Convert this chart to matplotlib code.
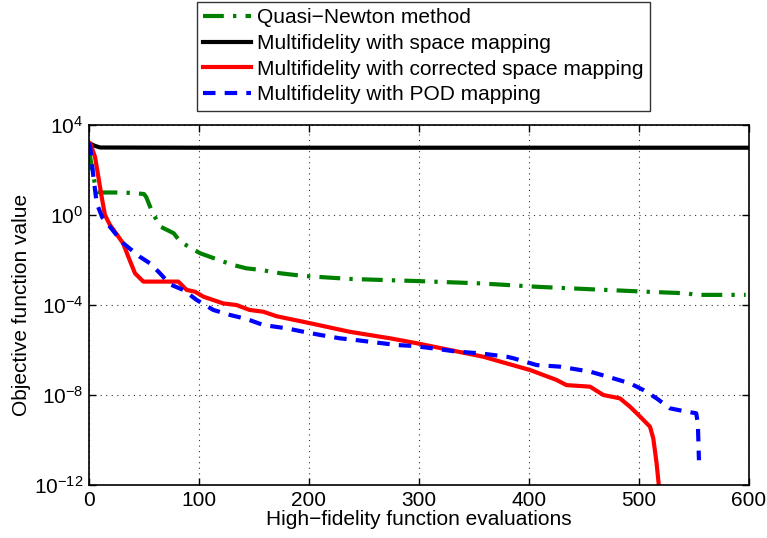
import numpy as np
import matplotlib
matplotlib.use("Agg")
import matplotlib.pyplot as plt

plt.rcParams['font.family'] = ['Liberation Sans', 'DejaVu Sans']
plt.rcParams['mathtext.fontset'] = 'custom'
plt.rcParams['mathtext.rm'] = 'Liberation Sans'
plt.rcParams['mathtext.it'] = 'Liberation Sans:italic'

# Quasi-Newton (x, log10 y)
qn_x = [0, 4, 7, 10, 25, 40, 50, 52, 58, 65, 77, 83, 101, 122, 131, 143, 156, 174, 195, 237, 274, 295, 334, 356, 380, 407, 456, 507, 543, 552, 597]
qn_log = [2.9, 1.7, 1.04, 1.0, 1.0, 0.98, 0.93, 0.8, 0.07, -0.52, -0.81, -1.19, -1.7, -2.07, -2.22, -2.37, -2.44, -2.59, -2.71, -2.84, -2.9, -2.93, -3.0, -3.04, -3.11, -3.19, -3.3, -3.41, -3.48, -3.55, -3.55]

# Multifidelity with space mapping
sm_x = [0, 5, 10, 100, 300, 600]
sm_log = [3.2, 3.08, 3.0, 2.99, 2.99, 2.99]

# Multifidelity with corrected space mapping
csm_x = [0, 1, 5.5, 8.5, 11.5, 14.5, 19, 26.7, 31, 35.7, 41.8, 49.4, 81.2, 88.8, 96.4, 104, 122, 134, 146, 158.5, 170.6, 201, 237, 273.6, 298, 328, 358.5, 380, 401, 425, 434, 455.5, 467.6, 482.7, 491.8, 501, 510, 513, 516, 518, 519]
csm_log = [3.2, 3.2, 2.58, 1.7, 0.81, 0.0, -0.44, -0.96, -1.26, -1.85, -2.59, -2.96, -2.96, -3.33, -3.41, -3.63, -3.93, -4.0, -4.22, -4.3, -4.5, -4.81, -5.19, -5.48, -5.7, -6.0, -6.3, -6.6, -6.89, -7.33, -7.56, -7.63, -8.0, -8.15, -8.52, -8.96, -9.41, -9.93, -11.04, -12.0, -12.5]

# Multifidelity with POD mapping
pod_x = [0, 1, 4, 7, 12, 19, 31, 46, 55.5, 64.5, 73.6, 85.7, 98, 113, 128, 143, 146, 158.5, 180, 195, 210, 228, 243, 261.5, 280, 295, 313, 334, 356, 380, 386, 407, 428, 455.5, 476.6, 491.8, 504, 516, 528, 543, 552, 553.5, 554.5]
pod_log = [3.2, 3.04, 1.7, 0.52, -0.1, -0.52, -1.25, -1.85, -2.15, -2.59, -3.08, -3.33, -3.78, -4.22, -4.44, -4.62, -4.67, -4.89, -5.04, -5.19, -5.33, -5.48, -5.56, -5.67, -5.78, -5.82, -5.93, -6.07, -6.15, -6.3, -6.37, -6.67, -6.74, -6.96, -7.26, -7.48, -7.78, -8.15, -8.59, -8.74, -8.81, -9.26, -10.9]

labels = ['Quasi\u2212Newton method',
          'Multifidelity with space mapping',
          'Multifidelity with corrected space mapping',
          'Multifidelity with POD mapping']

fs = 15

fig = plt.figure(figsize=(7.67, 5.38), dpi=100)
ax = fig.add_axes([89/767, 1-485/538, 660/767, 360/538])

lw = 3.0
ax.semilogy(qn_x, 10**np.array(qn_log), color=(0, 0.5, 0), lw=lw, ls=(0, (5, 2.2, 0.8, 2.2)), label=labels[0])
ax.semilogy(sm_x, 10**np.array(sm_log), color='black', lw=lw, ls='-', label=labels[1])
ax.semilogy(csm_x, 10**np.array(csm_log), color='red', lw=lw, ls='-', label=labels[2])
ax.semilogy(pod_x, 10**np.array(pod_log), color='blue', lw=lw, ls=(0, (3, 2.2)), label=labels[3])

ax.set_xlim(0, 600)
ax.set_ylim(1e-12, 1e4)
ax.set_xticks([0, 100, 200, 300, 400, 500, 600])
ax.set_yticks([1e-12, 1e-8, 1e-4, 1e0, 1e4])
ax.set_yticklabels([r'$10^{-12}$', r'$10^{-8}$', r'$10^{-4}$', r'$10^{0}$', r'$10^{4}$'])
ax.yaxis.set_minor_locator(matplotlib.ticker.NullLocator())
ax.tick_params(direction='in', which='both', top=True, right=True, labelsize=fs, length=5, width=1, pad=4)
ax.grid(True, ls=(0, (1, 4)), color='black', lw=0.8, alpha=0.8)
for s in ax.spines.values():
    s.set_linewidth(1.2)

ax.set_xlabel('High\u2212fidelity function evaluations', fontsize=fs, labelpad=0)
ax.set_ylabel('Objective function value', fontsize=fs, labelpad=2)

leg = ax.legend(loc='upper left', bbox_to_anchor=(197/767, 1-2/538), bbox_transform=fig.transFigure,
                fontsize=fs, frameon=True, fancybox=False, edgecolor='black', borderaxespad=0,
                handlelength=2.3, handletextpad=0.3, labelspacing=0.32, borderpad=0.3)
leg.get_frame().set_linewidth(1.0)

fig.savefig('out.png', dpi=100)
